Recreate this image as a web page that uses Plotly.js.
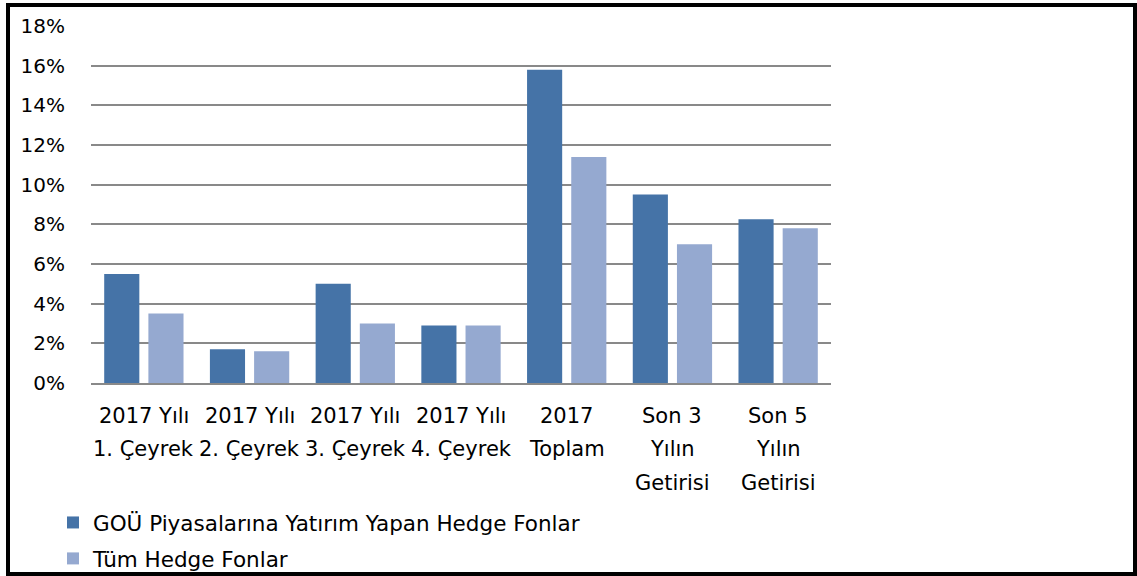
<!DOCTYPE html>
<html>
<head>
<meta charset="utf-8">
<script src="https://cdn.plot.ly/plotly-3.0.1.min.js"></script>
<style>
  html, body { margin: 0; padding: 0; background: #fff; }
  #chart { width: 1137px; height: 576px; }
  #frame {
    position: absolute; left: 6px; top: 3px; width: 1131px; height: 573px;
    box-sizing: border-box; border: 4px solid #000; pointer-events: none;
  }
</style>
</head>
<body>
<div id="chart"></div>
<div id="frame"></div>
<script>
// categories (one array of lines per x label)
const categories = ["q1", "q2", "q3", "q4", "toplam", "son3", "son5"];
const categoryLines = [
  ["2017 Yılı", "1. Çeyrek"],
  ["2017 Yılı", "2. Çeyrek"],
  ["2017 Yılı", "3. Çeyrek"],
  ["2017 Yılı", "4. Çeyrek"],
  ["2017", "Toplam"],
  ["Son 3", "Yılın", "Getirisi"],
  ["Son 5", "Yılın", "Getirisi"],
];

const seriesNames = ["GOÜ Piyasalarına Yatırım Yapan Hedge Fonlar", "Tüm Hedge Fonlar"];
const emergingFunds = [0.055, 0.017, 0.050, 0.029, 0.158, 0.095, 0.0825];
const allFunds = [0.035, 0.016, 0.030, 0.029, 0.114, 0.070, 0.078];

const FONT = "DejaVu Sans, sans-serif";
const chartEl = document.getElementById("chart");

const traces = [
  {
    x: categories, y: emergingFunds, type: "bar", name: seriesNames[0],
    legendgroup: "a", marker: { color: "#4573a7" }, hoverinfo: "skip",
  },
  {
    x: categories, y: allFunds, type: "bar", name: seriesNames[1],
    legendgroup: "b", marker: { color: "#95a9d0" }, hoverinfo: "skip",
  },
];

// x labels line by line, so the spacing can follow the original
const lineShift = [-33, -66, -100];
const annotations = [];
categoryLines.forEach((lines, i) => {
  lines.forEach((txt, j) => {
    annotations.push({
      x: categories[i], xref: "x", y: 0, yref: "paper",
      yanchor: "middle", yshift: lineShift[j], showarrow: false,
      text: txt, font: { family: FONT, size: 21, color: "#000" },
    });
  });
});

const layout = {
  width: 1137,
  height: 576,
  margin: { l: 91, r: 306, t: 26, b: 193, autoexpand: false },
  paper_bgcolor: "#fff",
  plot_bgcolor: "#fff",
  font: { family: FONT, size: 20, color: "#000" },
  barmode: "group",
  bargap: 0.164,
  bargroupgap: 0.205,
  showlegend: true,
  legend: {
    orientation: "v",
    xref: "container", x: 0.0466, xanchor: "left",
    yref: "container", y: 0.1285, yanchor: "top",
    tracegroupgap: 5, font: { family: FONT, size: 21.5, color: "#000" },
    bgcolor: "rgba(0,0,0,0)",
  },
  xaxis: {
    type: "category",
    showticklabels: false,
    showgrid: false,
    showline: true, linecolor: "#898989", linewidth: 2,
    ticks: "",
    fixedrange: true,
  },
  yaxis: {
    range: [0, 0.18],
    dtick: 0.02,
    tickformat: ".0%",
    showgrid: true, gridcolor: "#898989", gridwidth: 2,
    zeroline: false,
    showline: false,
    ticks: "",
    ticklabelstandoff: 25,
    tickfont: { family: FONT, size: 20, color: "#000" },
    fixedrange: true,
  },
  annotations,
};

Plotly.newPlot(chartEl, traces, layout, { staticPlot: true });
</script>
</body>
</html>
